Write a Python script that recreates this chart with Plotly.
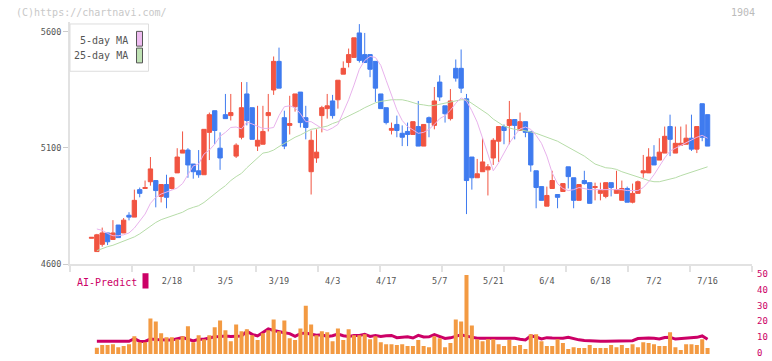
import plotly.graph_objects as go

# ---------------- data ----------------
candle_idx = list(range(116))
opens = [4712, 4655, 4686, 4735, 4707, 4769, 4735, 4811, 4803, 4921,
         4926, 4955, 4960, 4892, 4943, 4926, 4993, 5078, 5091, 5031,
         5002, 4985, 5167, 5260, 5099, 5243, 5239, 5065, 5146, 5332,
         5273, 5108, 5116, 5239, 5349, 5472, 5230, 5197, 5277, 5340,
         5230, 4998, 5057, 5239, 5269, 5302, 5307, 5417, 5467, 5489,
         5594, 5501, 5501, 5472, 5332, 5273, 5176, 5201, 5163, 5171,
         5158, 5192, 5108, 5230, 5197, 5383, 5281, 5226, 5442, 5442,
         5311, 5061, 4972, 4998, 5006, 5057, 5129, 5192, 5197, 5222,
         5175, 5213, 5171, 5002, 4934, 4850, 4926, 4900, 4913, 5019,
         4972, 4875, 4960, 4951, 4930, 4905, 4892, 4951, 4905, 4875,
         4926, 4867, 4905, 4993, 4993, 5061, 5048, 5078, 5192, 5078,
         5112, 5116, 5142, 5095, 5290, 5243]
highs = [4716, 4731, 4758, 4735, 4790, 4769, 4799, 4824, 4921, 4930,
         4960, 5061, 4960, 4943, 4985, 4976, 5099, 5171, 5099, 5031,
         5091, 5180, 5252, 5260, 5167, 5332, 5332, 5120, 5383, 5383,
         5273, 5281, 5281, 5332, 5493, 5531, 5260, 5324, 5332, 5340,
         5281, 5175, 5180, 5281, 5332, 5328, 5391, 5472, 5527, 5573,
         5632, 5594, 5501, 5472, 5332, 5273, 5209, 5239, 5197, 5209,
         5213, 5302, 5201, 5235, 5362, 5412, 5281, 5353, 5480, 5523,
         5332, 5061, 5053, 5142, 5031, 5142, 5192, 5201, 5302, 5222,
         5252, 5213, 5171, 5002, 4934, 4934, 5002, 4900, 4947, 5019,
         4972, 4943, 5002, 4951, 4951, 4951, 4951, 4951, 5002, 4960,
         4934, 4947, 4960, 5070, 5099, 5112, 5142, 5192, 5243, 5192,
         5192, 5201, 5243, 5192, 5290, 5243]
lows = [4712, 4655, 4676, 4683, 4707, 4715, 4735, 4789, 4803, 4888,
        4926, 4938, 4845, 4866, 4841, 4922, 4993, 5078, 4972, 4968,
        4972, 4985, 5048, 5116, 5006, 5226, 5218, 5057, 5137, 5197,
        5137, 5087, 5116, 5171, 5328, 5357, 5095, 5158, 5256, 5188,
        5137, 4900, 5036, 5167, 5226, 5226, 5269, 5417, 5446, 5489,
        5467, 5467, 5404, 5298, 5269, 5201, 5158, 5146, 5108, 5108,
        5158, 5108, 5108, 5146, 5180, 5302, 5209, 5218, 5385, 5336,
        4816, 4921, 4972, 4998, 4896, 5027, 5040, 5116, 5116, 5137,
        5175, 5146, 4998, 4841, 4875, 4850, 4926, 4841, 4913, 4926,
        4841, 4875, 4943, 4862, 4875, 4875, 4884, 4892, 4905, 4875,
        4867, 4862, 4905, 4972, 4993, 5027, 5048, 5078, 5065, 5078,
        5112, 5116, 5087, 5078, 5129, 5108]
closes = [4716, 4727, 4735, 4697, 4735, 4715, 4790, 4803, 4875, 4905,
          4930, 5010, 4917, 4943, 4888, 4972, 5061, 5091, 5027, 4998,
          4985, 5180, 5243, 5175, 5057, 5226, 5252, 5112, 5273, 5218,
          5137, 5133, 5171, 5252, 5472, 5357, 5108, 5205, 5332, 5209,
          5188, 5133, 5082, 5273, 5281, 5239, 5391, 5442, 5501, 5573,
          5476, 5467, 5438, 5357, 5269, 5209, 5184, 5175, 5146, 5158,
          5213, 5108, 5201, 5209, 5302, 5319, 5247, 5302, 5400, 5357,
          4960, 4972, 4989, 5040, 5019, 5133, 5192, 5175, 5222, 5197,
          5213, 5167, 5027, 4930, 4875, 4896, 4960, 4888, 4947, 4977,
          4875, 4943, 4947, 4862, 4934, 4917, 4951, 4930, 4921, 4926,
          4867, 4905, 4955, 5002, 5061, 5027, 5082, 5150, 5137, 5120,
          5120, 5142, 5095, 5192, 5146, 5108]

ma5 = [None,
       4752, 4746, 4733, 4723, 4723, 4727, 4735, 4756, 4786, 4816,
       4862, 4888, 4902, 4911, 4919, 4928, 4947, 4985, 5023, 5031,
       5074, 5091, 5116, 5150, 5167, 5188, 5190, 5182, 5211, 5203,
       5192, 5184, 5184, 5188, 5239, 5277, 5281, 5273, 5247, 5213,
       5213, 5197, 5184, 5175, 5186, 5201, 5252, 5307, 5370, 5438,
       5476, 5493, 5489, 5455, 5391, 5328, 5264, 5218, 5192, 5178,
       5163, 5167, 5180, 5201, 5226, 5239, 5262, 5292, 5315, 5302,
       5260, 5211, 5146, 5074, 5002, 5036, 5078, 5120, 5154, 5182,
       5190, 5180, 5154, 5120, 5065, 4993, 4947, 4926, 4917, 4921,
       4930, 4926, 4921, 4921, 4921, 4921, 4921, 4921, 4921, 4917,
       4917, 4917, 4930, 4955, 4985, 5023, 5057, 5087, 5099, 5112,
       5125, 5135, 5146, 5154, 5142]
ma25 = [None,
        4659, 4668, 4676, 4682, 4691, 4699, 4710, 4718, 4731, 4748,
        4765, 4780, 4792, 4801, 4809, 4816, 4824, 4837, 4845, 4852,
        4866, 4885, 4905, 4921, 4938, 4960, 4977, 4991, 5015, 5036,
        5059, 5078, 5082, 5091, 5106, 5120, 5133, 5146, 5156, 5167,
        5180, 5184, 5188, 5194, 5205, 5213, 5226, 5237, 5247, 5260,
        5273, 5283, 5294, 5300, 5304, 5307, 5307, 5307, 5302, 5294,
        5288, 5285, 5281, 5283, 5288, 5292, 5298, 5302, 5307, 5307,
        5292, 5277, 5262, 5245, 5224, 5209, 5194, 5186, 5180, 5178,
        5175, 5169, 5163, 5154, 5148, 5137, 5129, 5116, 5103, 5091,
        5078, 5065, 5048, 5031, 5023, 5015, 5013, 5008, 4998, 4991,
        4985, 4977, 4968, 4960, 4955, 4955, 4960, 4966, 4972, 4981,
        4989, 4996, 5002, 5013, 5019]
volume = [None,
          4.0, 5.7, 5.7, 6.3, 4.4, 5.1, 6.3, 11.4, 7.6, 7.6,
          22.7, 20.8, 13.3, 10.7, 10.7, 9.5, 11.4, 17.7, 7.6, 12.0,
          9.5, 12.0, 17.1, 21.5, 15.2, 8.2, 18.9, 14.5, 15.8, 12.0,
          8.9, 13.3, 15.2, 22.1, 14.5, 21.5, 10.1, 8.9, 16.4, 30.9,
          18.9, 12.0, 14.5, 13.9, 8.2, 16.4, 8.9, 15.8, 12.0, 12.0,
          12.6, 9.5, 11.4, 7.6, 6.3, 6.3, 5.7, 6.3, 5.1, 5.1,
          8.9, 5.1, 4.4, 11.4, 10.1, 4.4, 7.0, 22.1, 20.8, 50.5,
          18.3, 9.5, 8.2, 9.5, 9.5, 6.3, 5.1, 8.9, 5.1, 5.7,
          3.2, 12.6, 12.6, 8.2, 5.1, 5.1, 9.5, 7.0, 3.2, 4.4,
          3.8, 3.8, 5.7, 3.8, 3.8, 3.8, 5.7, 4.4, 5.7, 3.8,
          6.3, 4.4, 7.6, 7.0, 6.3, 5.1, 5.1, 13.9, 4.4, 2.6,
          6.3, 6.3, 5.7, 9.5, 3.8]
ai_predict = [None,
              7.1, 7.1, 7.1, 7.1, 7.1, 7.1, 7.1, 8.8, 7.0, 7.0,
              8.5, 8.2, 7.9, 7.9, 7.9, 8.6, 9.5, 8.4, 7.3, 8.4,
              8.4, 9.2, 10.0, 10.2, 10.5, 10.2, 10.2, 10.4, 13.5, 11.5,
              10.5, 12.8, 15.0, 14.0, 13.0, 12.5, 12.0, 10.2, 12.0, 12.4,
              11.6, 10.9, 11.2, 10.2, 10.6, 11.7, 10.6, 10.2, 10.8, 10.8,
              11.6, 10.2, 10.8, 10.2, 10.6, 10.8, 9.4, 9.8, 10.0, 9.2,
              10.9, 9.8, 9.9, 11.3, 10.0, 8.9, 9.3, 10.1, 11.3, 10.4,
              9.8, 9.0, 9.0, 9.0, 9.0, 9.0, 9.4, 9.0, 9.0, 8.4,
              7.9, 10.5, 9.8, 8.6, 9.4, 9.2, 9.0, 9.0, 9.6, 8.6,
              8.0, 7.6, 7.3, 7.1, 7.1, 7.1, 7.1, 7.5, 7.5, 7.5,
              7.5, 8.8, 9.2, 9.2, 9.0, 8.6, 9.5, 9.6, 8.5, 8.8,
              9.0, 9.0, 9.6, 10.5, 8.4]

date_label_idx = [15, 25, 35, 45, 55, 65, 75, 85, 95, 105, 115]
date_labels = ["2/18", "3/5", "3/19", "4/3", "4/17", "5/7",
               "5/21", "6/4", "6/18", "7/2", "7/16"]
price_ticks = [4600, 5100, 5600]
ai_ticks = [0, 10, 20, 30, 40, 50]

# ---------------- layout geometry ----------------
W, H = 772, 361
PL, PR, PT, PB = 70, 752, 22, 361
FIRST_PX, STEP_PX = 91.5, 5.357


def xi(px):
    return (px - FIRST_PX) / STEP_PX


def paper_x(px):
    return (px - PL) / (PR - PL)


def paper_y(py):
    return (PB - py) / (PB - PT)


x_range = [xi(PL), xi(PR)]
boundary_ticks = [xi(PL + 62 * k) for k in range(12)]

PX_PER_YEN = 236.3 / 1000.0
main_range = [4600, 4600 + (268 - PT) / PX_PER_YEN]
AI_PX = 1.586
ai_range = [-(PB - 357.3) / AI_PX, (357.3 - 272) / AI_PX]
vol_range = [-(PB - 359.0) / AI_PX, -(PB - 359.0) / AI_PX + (PB - 272) / AI_PX]

RED = "#f15441"
BLUE = "#3f7bef"
MONO = "DejaVu Sans Mono"

fig = go.Figure()

fig.add_trace(go.Candlestick(
    x=candle_idx, open=opens, high=highs, low=lows, close=closes,
    increasing=dict(line=dict(color=RED, width=1), fillcolor=RED),
    decreasing=dict(line=dict(color=BLUE, width=1), fillcolor=BLUE),
    whiskerwidth=0, xaxis="x", yaxis="y", hoverinfo="skip",
))
fig.add_trace(go.Scatter(x=candle_idx, y=ma25, mode="lines",
                         line=dict(color="#b6dca8", width=1),
                         xaxis="x", yaxis="y", hoverinfo="skip"))
fig.add_trace(go.Scatter(x=candle_idx, y=ma5, mode="lines",
                         line=dict(color="#e8b2ec", width=1),
                         xaxis="x", yaxis="y", hoverinfo="skip"))

fig.add_trace(go.Bar(x=candle_idx, y=volume, width=0.75,
                     marker=dict(color="#f39a42", line=dict(width=0)),
                     xaxis="x2", yaxis="y3", hoverinfo="skip"))
fig.add_trace(go.Scatter(x=candle_idx, y=ai_predict, mode="lines",
                         line=dict(color="#cc0066", width=3),
                         xaxis="x2", yaxis="y2", hoverinfo="skip"))

main_dom = [paper_y(268), 1.0]
sub_dom = [0.0, paper_y(272)]

fig.update_layout(
    width=W, height=H,
    margin=dict(l=PL, r=W - PR, t=PT, b=H - PB, pad=0),
    paper_bgcolor="white", plot_bgcolor="white",
    showlegend=False,
    boxgap=0.12, boxgroupgap=0.08,
    font=dict(family=MONO, size=9, color="#555555"),
    xaxis=dict(
        domain=[0, 1], range=x_range, anchor="y",
        rangeslider=dict(visible=False),
        showgrid=False, zeroline=False,
        showline=True, linecolor="#e2e2e2", linewidth=2,
        tickmode="array", tickvals=date_label_idx, ticktext=date_labels,
        ticks="outside", ticklen=7, tickcolor="rgba(0,0,0,0)",
        tickfont=dict(family=MONO, size=8.5, color="#555555"),
        minor=dict(tickmode="array", tickvals=boundary_ticks,
                   ticks="outside", ticklen=6, tickwidth=2,
                   tickcolor="#e2e2e2", showgrid=False),
    ),
    yaxis=dict(
        domain=main_dom, range=main_range, anchor="x",
        showgrid=False, zeroline=False,
        showline=True, linecolor="#e2e2e2", linewidth=2,
        tickmode="array", tickvals=price_ticks,
        ticktext=[str(v) for v in price_ticks],
        ticks="outside", ticklen=5, tickwidth=1, tickcolor="#cccccc",
        tickfont=dict(family=MONO, size=8.5, color="#555555"),
    ),
    xaxis2=dict(domain=[0, 1], range=x_range, anchor="y2",
                visible=False, showgrid=False, zeroline=False),
    yaxis2=dict(
        domain=sub_dom, range=ai_range, anchor="x2", side="right",
        showgrid=False, zeroline=False, showline=False,
        tickmode="array", tickvals=ai_ticks,
        ticks="", ticklabelstandoff=4,
        tickfont=dict(family=MONO, size=9, color="#cc0066"),
    ),
    yaxis3=dict(domain=sub_dom, range=vol_range, anchor="x2",
                overlaying="y2", visible=False),
)

shapes = []
annotations = []

# legend box (drawn manually like the original)
shapes.append(dict(type="rect", xref="paper", yref="paper",
                   x0=paper_x(70), x1=paper_x(148.5),
                   y0=paper_y(72), y1=paper_y(24),
                   line=dict(color="#dddddd", width=1), fillcolor="white"))
shapes.append(dict(type="rect", xref="paper", yref="paper",
                   x0=paper_x(136.5), x1=paper_x(142.5),
                   y0=paper_y(46.5), y1=paper_y(31.5),
                   line=dict(color="#555555", width=1), fillcolor="#eebcf0"))
shapes.append(dict(type="rect", xref="paper", yref="paper",
                   x0=paper_x(136.5), x1=paper_x(142.5),
                   y0=paper_y(63.5), y1=paper_y(48.5),
                   line=dict(color="#555555", width=1), fillcolor="#bfe2b4"))
annotations.append(dict(text="5-day MA", xref="paper", yref="paper",
                        x=paper_x(130), y=paper_y(40.5),
                        xanchor="right", yanchor="middle", showarrow=False,
                        font=dict(family=MONO, size=10, color="#555555")))
annotations.append(dict(text="25-day MA", xref="paper", yref="paper",
                        x=paper_x(130), y=paper_y(56.5),
                        xanchor="right", yanchor="middle", showarrow=False,
                        font=dict(family=MONO, size=10, color="#555555")))

# AI-Predict label + swatch
annotations.append(dict(text="AI-Predict", xref="paper", yref="paper",
                        x=paper_x(75), y=paper_y(286),
                        xanchor="left", yanchor="middle", showarrow=False,
                        font=dict(family=MONO, size=10, color="#cc0066")))
shapes.append(dict(type="rect", xref="paper", yref="paper",
                   x0=paper_x(142.5), x1=paper_x(148.5),
                   y0=paper_y(292.5), y1=paper_y(277),
                   line=dict(width=0), fillcolor="#cc0066"))

# watermark and code
annotations.append(dict(text="(C)https://chartnavi.com/", xref="paper", yref="paper",
                        x=paper_x(14), y=paper_y(12.5),
                        xanchor="left", yanchor="middle", showarrow=False,
                        font=dict(family=MONO, size=10, color="#c8c8c8")))
annotations.append(dict(text="1904", xref="paper", yref="paper",
                        x=paper_x(757), y=paper_y(12),
                        xanchor="right", yanchor="middle", showarrow=False,
                        font=dict(family=MONO, size=10, color="#bbbbbb")))

fig.update_layout(shapes=shapes, annotations=annotations)

fig.write_html("out.html")
